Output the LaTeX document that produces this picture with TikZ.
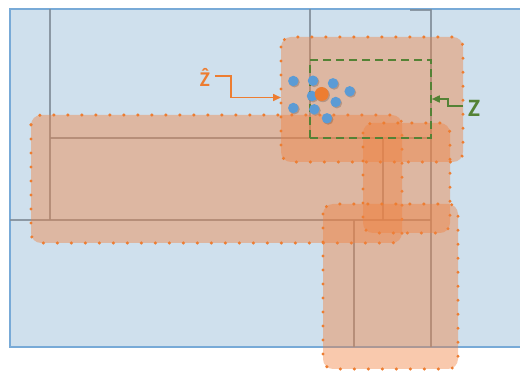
\documentclass[tikz,border=0pt]{standalone}
\usepackage{fontspec}
\setmainfont{Carlito}
\usetikzlibrary{arrows.meta}
\definecolor{bgblue}{RGB}{207,224,237}
\definecolor{edgeblue}{RGB}{120,170,215}
\definecolor{gridgray}{RGB}{128,140,152}
\definecolor{regorange}{RGB}{237,125,49}
\definecolor{regfill}{RGB}{240,130,65}
\definecolor{ptblue}{RGB}{91,155,213}
\definecolor{zgreen}{RGB}{84,130,53}
\tikzset{
  region/.style={fill=regfill, fill opacity=0.43, draw=regorange,
    line width=3.4pt, line cap=round, dash pattern=on 0pt off 14pt, rounded corners=10pt},
  gridline/.style={draw=gridgray, line width=1.1pt, opacity=0.85},
  sample/.style={circle, fill=ptblue, inner sep=0pt, minimum size=10.5pt},
  center/.style={circle, fill=regorange, inner sep=0pt, minimum size=14pt},
  shade/.style={circle, fill=black, opacity=0.18, inner sep=0pt, minimum size=10.5pt},
  zlabel/.style={font=\bfseries, inner sep=0pt, anchor=base},
}
\begin{document}
\begin{tikzpicture}[x=1pt, y=-1pt]
\useasboundingbox (0,0) rectangle (520,371);
\begin{scope}
\clip (0,0) rectangle (520,371);
% plane
\fill[bgblue] (10,9) rectangle (530,347);
\draw[edgeblue, line width=1.2pt] (530,9) -- (10,9) -- (10,347) -- (530,347);
% partition lines
\draw[gridline] (50,9) -- (50,220);
\draw[gridline] (310,9) -- (310,138);
\draw[gridline] (431,9) -- (431,347);
\draw[gridline] (50,138) -- (431,138);
\draw[gridline] (10,220) -- (431,220);
\draw[gridline] (383,138) -- (383,220);
\draw[gridline] (354,220) -- (354,347);
\draw[gridline] (410,10) -- (431,10);
% regions
\path[region] (31,115) rectangle (402,243);
\path[region] (281,37) rectangle (463,162);
\path[region] (363,123) rectangle (450,233);
\path[region] (323,204) rectangle (458,369);
\end{scope}
% target box
\node[draw=zgreen, line width=1.6pt, dash pattern=on 8pt off 5pt, minimum width=121pt,
  minimum height=78pt, inner sep=0pt] (zbox) at (370.5,99) {};
\coordinate (regw) at (281,97.5);
% samples
\foreach \px/\py [count=\i] in {293.3/81, 313/80.7, 333/83.3, 349.7/91.3, 312/96, 335.7/102, 293.3/108, 314.3/109.3, 327/118.3}{
  \node[shade] at (\px+1.2,\py+1.2) {};
  \node[sample] (s\i) at (\px,\py) {};
}
\node[shade, minimum size=14pt] at (322.9,95.2) {};
\node[center] (zc) at (321.7,94) {};
% labels
\node[zlabel, text=regorange, font=\bfseries\fontsize{21}{21}\selectfont] (zhat) at (205,87) {Ẑ};
\node[zlabel, text=zgreen, font=\bfseries\fontsize{25}{25}\selectfont] (zlab) at (474,117) {Z};
\draw[regorange, line width=1.6pt, -{Triangle[length=8pt,width=7pt]}]
  (215,76) -| (231,97.5) -- (regw);
\draw[zgreen, line width=1.6pt, -{Triangle[length=8pt,width=7pt]}]
  (463,106) -| (448,99) -- (zbox.east);
\end{tikzpicture}
\end{document}
